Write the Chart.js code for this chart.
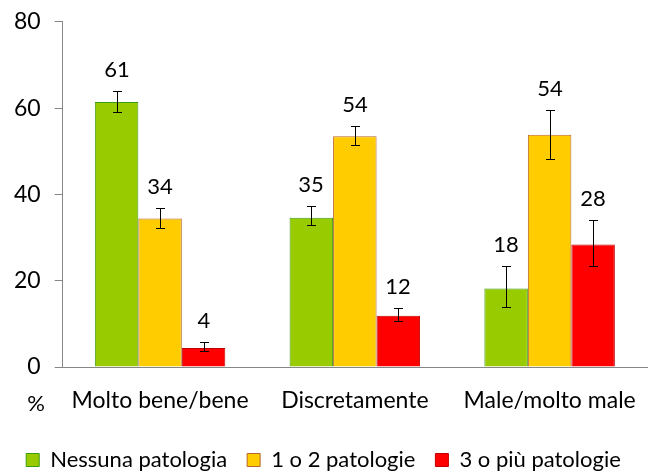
<!DOCTYPE html>
<html>
<head>
<meta charset="utf-8">
<script src="https://cdn.jsdelivr.net/npm/chart.js@4"></script>
<style>
  body { margin: 0; background: #fff; }
  #wrap { width: 664px; height: 473px; }
</style>
</head>
<body>
<div id="wrap"><canvas id="grafico"></canvas></div>
<script>
// categorie e serie
var categorie = ['Molto bene/bene', 'Discretamente', 'Male/molto male'];
var serieNomi = ['Nessuna patologia', '1 o 2 patologie', '3 o più patologie'];

var nessuna = [61.4, 34.6, 18.2];
var unoDue = [34.4, 53.5, 53.8];
var treOPiu = [4.4, 11.9, 28.4];

// intervalli di confidenza (inf / sup)
var nessunaInf = [59.2, 32.8, 13.9];
var nessunaSup = [63.9, 37.2, 23.4];
var unoDueInf = [32.3, 51.5, 48.1];
var unoDueSup = [36.8, 55.8, 59.6];
var treInf = [3.7, 10.7, 23.4];
var treSup = [5.7, 13.6, 34.0];

var yTicks = [0, 20, 40, 60, 80];

var FONT = 'Lato';

// barre d'errore + etichette dei valori + "%"
var extraPlugin = {
  id: 'extra',
  afterDatasetsDraw: function(chart) {
    var ctx = chart.ctx;
    var y = chart.scales.y;
    ctx.save();
    chart.data.datasets.forEach(function(ds, i) {
      var meta = chart.getDatasetMeta(i);
      meta.data.forEach(function(bar, j) {
        var x = Math.round(bar.x);
        var yLo = Math.round(y.getPixelForValue(ds.errInf[j]));
        var yHi = Math.round(y.getPixelForValue(ds.errSup[j]));
        ctx.strokeStyle = '#000';
        ctx.lineWidth = 1;
        ctx.beginPath();
        ctx.moveTo(x + 0.5, yLo);
        ctx.lineTo(x + 0.5, yHi);
        ctx.moveTo(x - 4, yLo + 0.5);
        ctx.lineTo(x + 5, yLo + 0.5);
        ctx.moveTo(x - 4, yHi + 0.5);
        ctx.lineTo(x + 5, yHi + 0.5);
        ctx.stroke();

        ctx.fillStyle = '#000';
        ctx.font = '22px ' + FONT;
        ctx.textAlign = 'center';
        ctx.textBaseline = 'middle';
        ctx.fillText(Math.round(ds.data[j]), x, yHi - 21);
      });
    });
    ctx.font = '22px ' + FONT;
    ctx.textAlign = 'center';
    ctx.textBaseline = 'middle';
    ctx.fillStyle = '#000';
    ctx.fillText('%', 36, 404);
    ctx.restore();
  }
};

var grafico = new Chart(document.getElementById('grafico'), {
  type: 'bar',
  data: {
    labels: categorie,
    datasets: [
      { label: serieNomi[0], data: nessuna, errInf: nessunaInf, errSup: nessunaSup,
        backgroundColor: '#99CC00', borderColor: '#3E9A10', borderWidth: 1 },
      { label: serieNomi[1], data: unoDue, errInf: unoDueInf, errSup: unoDueSup,
        backgroundColor: '#FFCC00', borderColor: '#B5652A', borderWidth: 1 },
      { label: serieNomi[2], data: treOPiu, errInf: treInf, errSup: treSup,
        backgroundColor: '#FF0000', borderColor: '#C00000', borderWidth: 1 }
    ]
  },
  options: {
    responsive: true,
    maintainAspectRatio: false,
    animation: false,
    layout: { padding: { left: 0, right: 17, top: 0, bottom: -8 } },
    datasets: { bar: { categoryPercentage: 0.67, barPercentage: 1.0 } },
    plugins: {
      tooltip: { enabled: false },
      legend: {
        position: 'bottom',
        labels: {
          color: '#000',
          font: { family: FONT, size: 22 },
          boxWidth: 13,
          boxHeight: 13,
          padding: 20
        }
      }
    },
    scales: {
      x: {
        grid: { display: false },
        border: { display: true, color: '#868686', width: 1 },
        ticks: { color: '#000', font: { family: FONT, size: 23 }, padding: 12 },
        afterFit: function(axis) { axis.height = 62; }
      },
      y: {
        min: 0,
        max: 80,
        afterBuildTicks: function(axis) {
          axis.ticks = yTicks.map(function(v) { return { value: v }; });
        },
        afterFit: function(axis) { axis.paddingTop = Math.max(0, axis.paddingTop - 6); },
        grid: { display: true, drawOnChartArea: false, drawTicks: true, tickLength: 8, color: '#868686' },
        border: { display: true, color: '#868686', width: 1 },
        ticks: { color: '#000', font: { family: FONT, size: 23 }, padding: 14 }
      }
    }
  },
  plugins: [extraPlugin]
});
</script>
</body>
</html>
